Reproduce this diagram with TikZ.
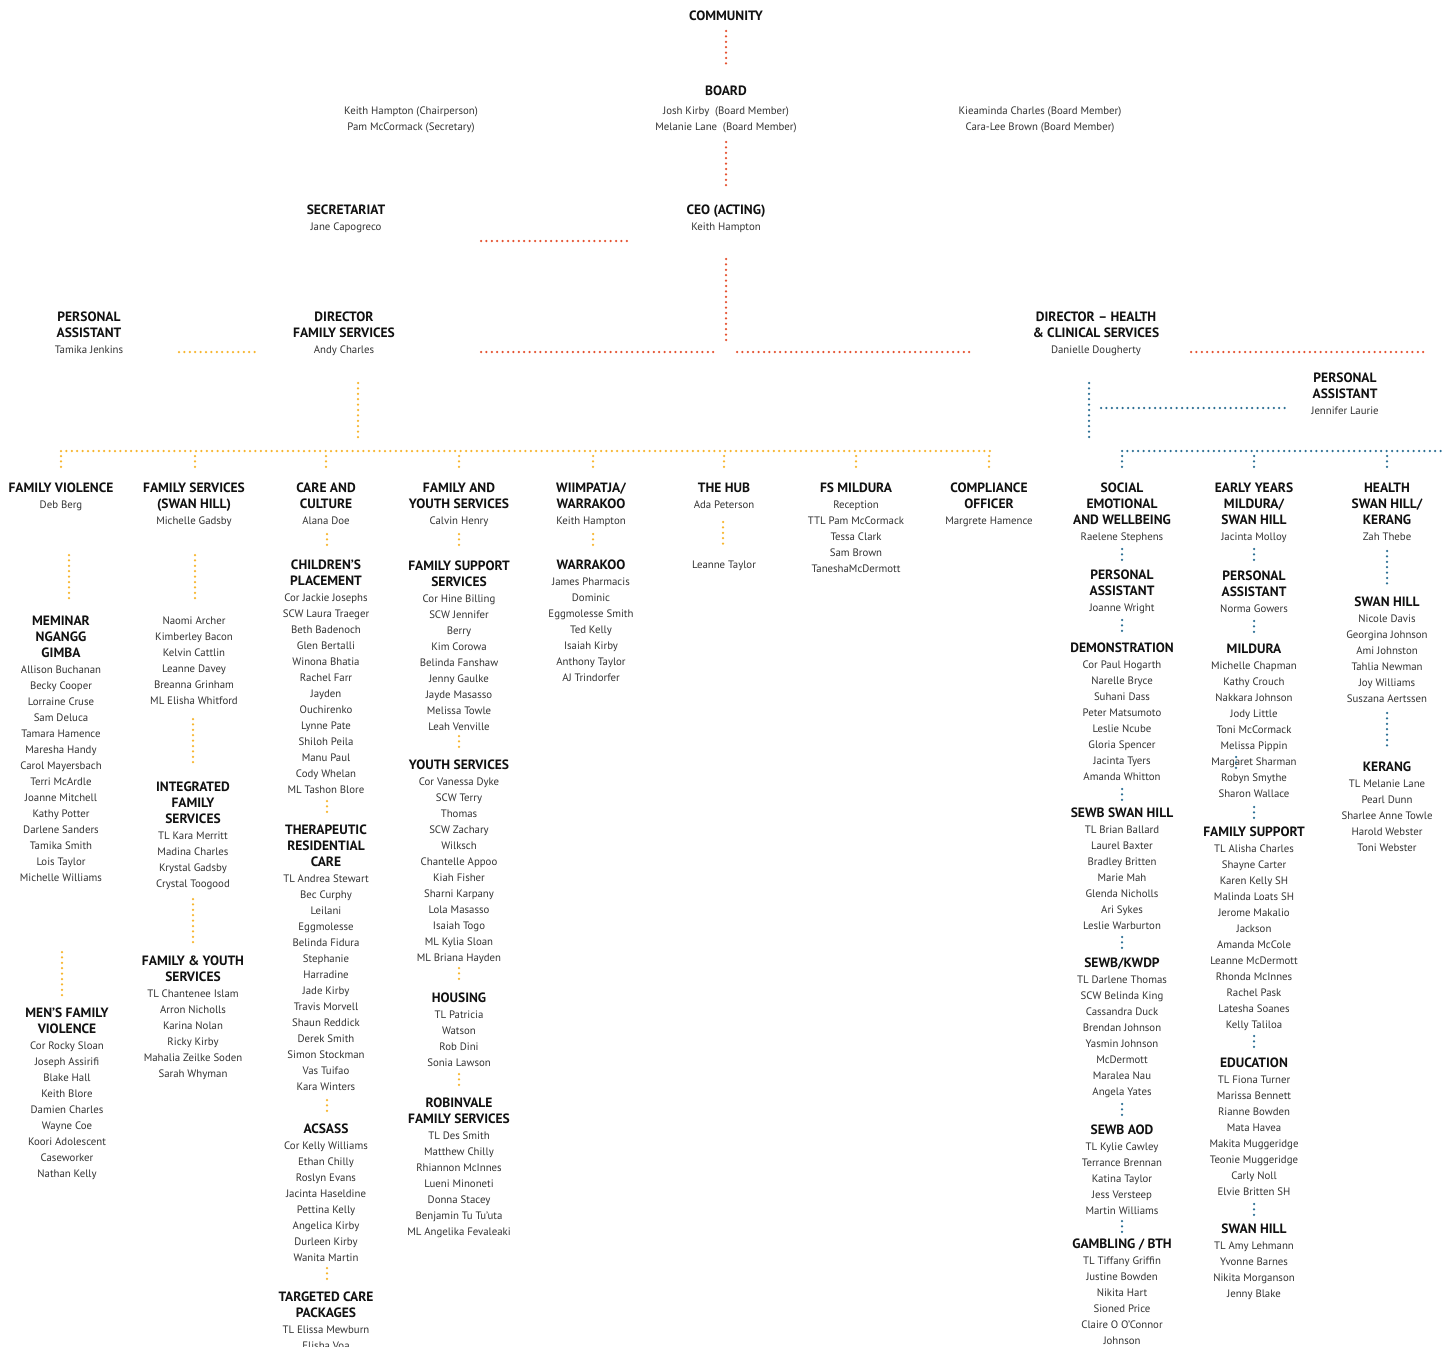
\documentclass[tikz,border=0pt]{standalone}
\usepackage{fontspec}
\setmainfont{PT Sans}
\definecolor{cred}{HTML}{E5512F}
\definecolor{cyel}{HTML}{F7B52C}
\definecolor{cblue}{HTML}{2B6E93}
\definecolor{ngray}{HTML}{333333}
\definecolor{hblack}{HTML}{111111}
\tikzset{
  dotline/.style={line width=2.5pt, dash pattern=on 0pt off 5.4pt, line cap=round},
  rd/.style={dotline, draw=cred},
  yl/.style={dotline, draw=cyel},
  bl/.style={dotline, draw=cblue},
  txt/.style={anchor=mid, inner sep=0pt, yshift=-3pt, font=\fontsize{10.8}{12}\selectfont, text=ngray}
}
\newcommand\hd{\fontsize{13.5}{15}\selectfont\bfseries\color{hblack}}
\newcommand\blk[4]{%
  \foreach \t [count=\i] in {#4} {
    \node[txt] (#1-\i) at (#2, #3+16*\i-16) {\t};
  }%
}
\newcommand\dl[6]{\coordinate (#1a) at (#3,#4); \coordinate (#1b) at (#5,#6); \draw[#2] (#1a) -- (#1b);}
\begin{document}
\begin{tikzpicture}[x=1pt,y=-1pt]
\fill[white] (0,0) rectangle (1450,1346);
\useasboundingbox (0,0) rectangle (1450,1346);

% ---------- top ----------
\blk{comm}{726}{15}{\hd COMMUNITY}
\dl{L1}{rd}{726}{31}{726}{68}
\blk{board}{726}{90}{\hd BOARD}
\blk{bm}{726}{109}{Josh Kirby\ \ (Board Member),Melanie Lane\ \ (Board Member)}
\blk{bl}{411}{109}{Keith Hampton (Chairperson),Pam McCormack (Secretary)}
\blk{br}{1040}{109}{Kieaminda Charles (Board Member),Cara-Lee Brown (Board Member)}
\dl{L2}{rd}{726}{142}{726}{188}
\blk{sec}{346}{209}{\hd SECRETARIAT,Jane Capogreco}
\blk{ceo}{726}{209}{\hd CEO (ACTING),Keith Hampton}
\dl{L3}{rd}{481}{241}{630}{241}
\dl{L4}{rd}{726}{259}{726}{344}
\blk{pa1}{89}{316}{\hd PERSONAL,\hd ASSISTANT,Tamika Jenkins}
\dl{L5}{yl}{179}{352}{256}{352}
\blk{dfs}{344}{316}{\hd DIRECTOR,\hd FAMILY SERVICES,Andy Charles}
\dl{L6}{rd}{481}{352}{718}{352}
\dl{L7}{rd}{737}{352}{973}{352}
\blk{dhc}{1096}{316}{\hd DIRECTOR – HEALTH,\hd \& CLINICAL SERVICES,Danielle Dougherty}
\dl{L8}{rd}{1191}{352}{1428}{352}
\dl{L9}{yl}{358}{383}{358}{441}
\dl{L10}{bl}{1089}{383}{1089}{441}
\dl{L11}{bl}{1101}{408}{1287}{408}
\blk{pa2}{1345}{377}{\hd PERSONAL,\hd ASSISTANT,Jennifer Laurie}

% ---------- branches ----------
\dl{LY}{yl}{61}{451}{990}{451}
\foreach \xx [count=\k] in {61,195,326,459,593,724,856,989}{
  \coordinate (yt\k a) at (\xx,456); \coordinate (yt\k b) at (\xx,468);
  \draw[yl] (yt\k a) -- (yt\k b);
}
\dl{LB}{bl}{1122}{451}{1443}{451}
\foreach \xx [count=\k] in {1122,1254,1387}{
  \coordinate (bt\k a) at (\xx,456); \coordinate (bt\k b) at (\xx,468);
  \draw[bl] (bt\k a) -- (bt\k b);
}

% ---------- column 1 ----------
\blk{fv}{61}{487}{\hd FAMILY VIOLENCE,Deb Berg}
\dl{C1a}{yl}{69}{555}{69}{602}
\blk{mng}{61}{620}{\hd MEMINAR,\hd NGANGG,\hd GIMBA,Allison Buchanan,Becky Cooper,Lorraine Cruse,Sam Deluca,Tamara Hamence,Maresha Handy,Carol Mayersbach,Terri McArdle,Joanne Mitchell,Kathy Potter,Darlene Sanders,Tamika Smith,Lois Taylor,Michelle Williams}
\dl{C1b}{yl}{62}{952}{62}{999}
\blk{mfv}{67}{1012}{\hd MEN’S FAMILY,\hd VIOLENCE,Cor Rocky Sloan,Joseph Assirifi,Blake Hall,Keith Blore,Damien Charles,Wayne Coe,Koori Adolescent,Caseworker,Nathan Kelly}

% ---------- column 2 ----------
\blk{fsh}{194}{487}{\hd FAMILY SERVICES,\hd (SWAN HILL),Michelle Gadsby}
\dl{C2a}{yl}{195}{555}{195}{602}
\blk{fshn}{194}{619}{Naomi Archer,Kimberley Bacon,Kelvin Cattlin,Leanne Davey,Breanna Grinham,ML Elisha Whitford}
\dl{C2b}{yl}{193}{719}{193}{766}
\blk{ifs}{193}{786}{\hd INTEGRATED,\hd FAMILY,\hd SERVICES,TL Kara Merritt,Madina Charles,Krystal Gadsby,Crystal Toogood}
\dl{C2c}{yl}{193}{899}{193}{946}
\blk{fys}{193}{960}{\hd FAMILY \& YOUTH,\hd SERVICES,TL Chantenee Islam,Arron Nicholls,Karina Nolan,Ricky Kirby,Mahalia Zeilke Soden,Sarah Whyman}

% ---------- column 3 ----------
\blk{cc}{326}{487}{\hd CARE AND,\hd CULTURE,Alana Doe}
\dl{C3a}{yl}{327}{534}{327}{548}
\blk{cp}{326}{564}{\hd CHILDREN’S,\hd PLACEMENT,Cor Jackie Josephs,SCW Laura Traeger,Beth Badenoch,Glen Bertalli,Winona Bhatia,Rachel Farr,Jayden,Ouchirenko,Lynne Pate,Shiloh Peila,Manu Paul,Cody Whelan,ML Tashon Blore}
\dl{C3b}{yl}{327}{801}{327}{815}
\blk{trc}{326}{829}{\hd THERAPEUTIC,\hd RESIDENTIAL,\hd CARE,TL Andrea Stewart,Bec Curphy,Leilani,Eggmolesse,Belinda Fidura,Stephanie,Harradine,Jade Kirby,Travis Morvell,Shaun Reddick,Derek Smith,Simon Stockman,Vas Tuifao,Kara Winters}
\dl{C3c}{yl}{327}{1100}{327}{1114}
\blk{acs}{326}{1128}{\hd ACSASS,Cor Kelly Williams,Ethan Chilly,Roslyn Evans,Jacinta Haseldine,Pettina Kelly,Angelica Kirby,Durleen Kirby,Wanita Martin}
\dl{C3d}{yl}{327}{1268}{327}{1282}
\blk{tcp}{326}{1296}{\hd TARGETED CARE,\hd PACKAGES,TL Elissa Mewburn,Elisha Voa}

% ---------- column 4 ----------
\blk{fay}{459}{487}{\hd FAMILY AND,\hd YOUTH SERVICES,Calvin Henry}
\dl{C4a}{yl}{459}{534}{459}{548}
\blk{fss}{459}{565}{\hd FAMILY SUPPORT,\hd SERVICES,Cor Hine Billing,SCW Jennifer,Berry,Kim Corowa,Belinda Fanshaw,Jenny Gaulke,Jayde Masasso,Melissa Towle,Leah Venville}
\dl{C4b}{yl}{459}{736}{459}{750}
\blk{ys}{459}{764}{\hd YOUTH SERVICES,Cor Vanessa Dyke,SCW Terry,Thomas,SCW Zachary,Wilksch,Chantelle Appoo,Kiah Fisher,Sharni Karpany,Lola Masasso,Isaiah Togo,ML Kylia Sloan,ML Briana Hayden}
\dl{C4c}{yl}{459}{968}{459}{982}
\blk{hou}{459}{997}{\hd HOUSING,TL Patricia,Watson,Rob Dini,Sonia Lawson}
\dl{C4d}{yl}{459}{1074}{459}{1088}
\blk{rfs}{459}{1102}{\hd ROBINVALE,\hd FAMILY SERVICES,TL Des Smith,Matthew Chilly,Rhiannon McInnes,Lueni Minoneti,Donna Stacey,Benjamin Tu Tu’uta,ML Angelika Fevaleaki}

% ---------- column 5 ----------
\blk{wim}{591}{487}{\hd WIIMPATJA/,\hd WARRAKOO,Keith Hampton}
\dl{C5a}{yl}{593}{534}{593}{548}
\blk{war}{591}{564}{\hd WARRAKOO,James Pharmacis,Dominic,Eggmolesse Smith,Ted Kelly,Isaiah Kirby,Anthony Taylor,AJ Trindorfer}

% ---------- column 6 ----------
\blk{hub}{724}{487}{\hd THE HUB,Ada Peterson}
\dl{C6a}{yl}{723}{522}{723}{548}
\blk{hubn}{724}{563}{Leanne Taylor}

% ---------- column 7 ----------
\blk{fsm}{856}{487}{\hd FS MILDURA,Reception,TTL Pam McCormack,Tessa Clark,Sam Brown,TaneshaMcDermott}

% ---------- column 8 ----------
\blk{co}{989}{487}{\hd COMPLIANCE,\hd OFFICER,Margrete Hamence}

% ---------- column 9 ----------
\blk{sew}{1122}{487}{\hd SOCIAL,\hd EMOTIONAL,\hd AND WELLBEING,Raelene Stephens}
\dl{C9a}{bl}{1122}{549}{1122}{560}
\blk{pa3}{1122}{574}{\hd PERSONAL,\hd ASSISTANT,Joanne Wright}
\dl{C9b}{bl}{1122}{620}{1122}{632}
\blk{dem}{1122}{647}{\hd DEMONSTRATION,Cor Paul Hogarth,Narelle Bryce,Suhani Dass,Peter Matsumoto,Leslie Ncube,Gloria Spencer,Jacinta Tyers,Amanda Whitton}
\dl{C9c}{bl}{1122}{789}{1122}{800}
\blk{ssh}{1122}{812}{\hd SEWB SWAN HILL,TL Brian Ballard,Laurel Baxter,Bradley Britten,Marie Mah,Glenda Nicholls,Ari Sykes,Leslie Warburton}
\dl{C9d}{bl}{1122}{937}{1122}{948}
\blk{kw}{1122}{962}{\hd SEWB/KWDP,TL Darlene Thomas,SCW Belinda King,Cassandra Duck,Brendan Johnson,Yasmin Johnson,McDermott,Maralea Nau,Angela Yates}
\dl{C9e}{bl}{1122}{1104}{1122}{1116}
\blk{aod}{1122}{1129}{\hd SEWB AOD,TL Kylie Cawley,Terrance Brennan,Katina Taylor,Jess Versteep,Martin Williams}
\dl{C9f}{bl}{1122}{1221}{1122}{1232}
\blk{gam}{1122}{1243}{\hd GAMBLING / BTH,TL Tiffany Griffin,Justine Bowden,Nikita Hart,Sioned Price,Claire O O’Connor,Johnson}

% ---------- column 10 ----------
\blk{ey}{1254}{487}{\hd EARLY YEARS,\hd MILDURA/,\hd SWAN HILL,Jacinta Molloy}
\dl{C10a}{bl}{1254}{549}{1254}{560}
\blk{pa4}{1254}{575}{\hd PERSONAL,\hd ASSISTANT,Norma Gowers}
\dl{C10b}{bl}{1254}{621}{1254}{632}
\blk{mil}{1254}{648}{\hd MILDURA,Michelle Chapman,Kathy Crouch,Nakkara Johnson,Jody Little,Toni McCormack,Melissa Pippin,Margaret Sharman,Robyn Smythe,Sharon Wallace}
\dl{C10s}{bl}{1236}{757}{1236}{768}
\dl{C10c}{bl}{1254}{807}{1254}{818}
\blk{fsu}{1254}{831}{\hd FAMILY SUPPORT,TL Alisha Charles,Shayne Carter,Karen Kelly SH,Malinda Loats SH,Jerome Makalio,Jackson,Amanda McCole,Leanne McDermott,Rhonda McInnes,Rachel Pask,Latesha Soanes,Kelly Taliloa}
\dl{C10d}{bl}{1254}{1036}{1254}{1048}
\blk{edu}{1254}{1062}{\hd EDUCATION,TL Fiona Turner,Marissa Bennett,Rianne Bowden,Mata Havea,Makita Muggeridge,Teonie Muggeridge,Carly Noll,Elvie Britten SH}
\dl{C10e}{bl}{1254}{1204}{1254}{1216}
\blk{swh}{1254}{1228}{\hd SWAN HILL,TL Amy Lehmann,Yvonne Barnes,Nikita Morganson,Jenny Blake}

% ---------- column 11 ----------
\blk{hsk}{1387}{487}{\hd HEALTH,\hd SWAN HILL/,\hd KERANG,Zah Thebe}
\dl{C11a}{bl}{1387}{551}{1387}{588}
\blk{sh2}{1387}{601}{\hd SWAN HILL,Nicole Davis,Georgina Johnson,Ami Johnston,Tahlia Newman,Joy Williams,Suszana Aertssen}
\dl{C11b}{bl}{1387}{713}{1387}{750}
\blk{ker}{1387}{766}{\hd KERANG,TL Melanie Lane,Pearl Dunn,Sharlee Anne Towle,Harold Webster,Toni Webster}
\end{tikzpicture}
\end{document}
